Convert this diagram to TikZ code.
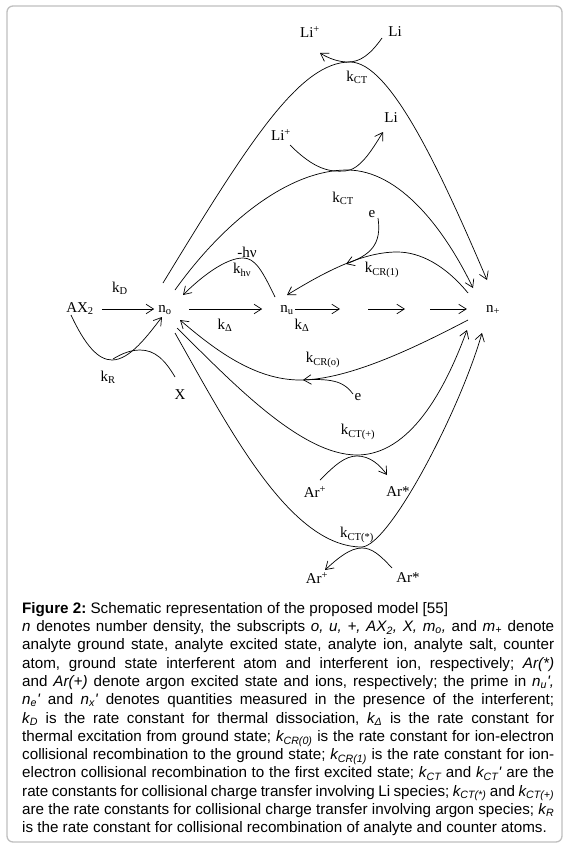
\documentclass[tikz,border=0pt]{standalone}
\usepackage{fontspec}
\setmainfont{Liberation Serif}
\newfontfamily\capfont{Liberation Sans}
\usetikzlibrary{arrows.meta,calc}
\begin{document}
\begin{tikzpicture}[x=1bp,y=-1bp,
  font=\fontsize{15bp}{18bp}\selectfont,
  lbl/.style={inner sep=0pt},
  mainnode/.style={inner sep=1bp, text height=10bp, text depth=4bp},
  arr/.style={line width=0.7bp, -{Straight Barb[length=7.5bp,width=9.5bp]}},
  ln/.style={line width=0.7bp}]
\useasboundingbox (0,0) rectangle (567,849);
\draw[black!25, line width=1.3bp, rounded corners=6bp] (7,6) rectangle (562,842);

% main species
\node[mainnode] (ax2) at (80,309) {AX\textsubscript{2}};
\node[mainnode] (no) at (165,309) {n\textsubscript{o}};
\node[mainnode] (nu) at (287,309) {n\textsubscript{u}};
\node[mainnode] (np) at (493,309) {n\textsubscript{+}};
\coordinate (h1) at (340,309);
\coordinate (h2) at (368,309);
\coordinate (h3) at (405,309);
\coordinate (h4) at (430,309);

% horizontal arrows
\draw[arr, shorten <=7bp, shorten >=3bp] (ax2) -- (no);
\draw[arr, shorten <=16bp, shorten >=17bp] (no) -- (nu);
\draw[arr] (nu) -- (h1);
\draw[arr] (h2) -- (h3);
\draw[arr, shorten >=18bp] (h4) -- (np);

% labels
\node[lbl] (kd) at (120,288) {k\textsubscript{D}};
\node[lbl] (kdel1) at (225,325) {k\textsubscript{Δ}};
\node[lbl] (kdel2) at (302,325) {k\textsubscript{Δ}};
\node[lbl] (kr) at (108,377) {k\textsubscript{R}};
\node[lbl] (xx) at (180,395) {X};
\node[lbl] (hnu) at (247,252) {-hν};
\node[lbl] (khnu) at (242,270) {k\textsubscript{hν}};
\node[lbl] (kcr1) at (382,270) {k\textsubscript{CR(1)}};
\node[lbl] (e1) at (372,214) {e};
\node[lbl] (kct2) at (343,198) {k\textsubscript{CT}};
\node[lbl] (kct1) at (357,77) {k\textsubscript{CT}};
\node[lbl] (lip1) at (310,32) {Li\textsuperscript{+}};
\node[lbl] (li1) at (395,32) {Li};
\node[lbl] (lip2) at (281,135) {Li\textsuperscript{+}};
\node[lbl] (li2) at (391,118) {Li};
\node[lbl] (kcr0) at (323,360) {k\textsubscript{CR(o)}};
\node[lbl] (e2) at (358,397) {e};
\node[lbl] (kctp) at (358,432) {k\textsubscript{CT(+)}};
\node[lbl] (arp1) at (315,492) {Ar\textsuperscript{+}};
\node[lbl] (ars1) at (398,492) {Ar*};
\node[lbl] (kcts) at (357,535) {k\textsubscript{CT(*)}};
\node[lbl] (arp2) at (317,578) {Ar\textsuperscript{+}};
\node[lbl] (ars2) at (408,578) {Ar*};

\coordinate (m1) at (346,264);
\coordinate (m2) at (303,380);
\coordinate (m3) at (113,359);

% top kCT
\draw[arr] ($(no)+(-2,-26)$) .. controls (250,140) and (300,62) .. (350,62)
  .. controls (390,62) and (440,170) .. ($(np)+(-6,-29)$);
\draw[arr] ($(li1)+(-13,6)$) .. controls (370,55) and (360,62) .. (348,62)
  .. controls (338,62) and (328,58) .. ($(lip1)+(10,21)$);
% middle kCT
\draw[arr] ($(no)+(10,-19)$) .. controls (225,220) and (290,170) .. (347,170)
  .. controls (400,170) and (445,230) .. ($(np)+(-20,-21)$);
\draw[arr] ($(lip2)+(9,10)$) .. controls (315,170) and (330,172) .. (345,171)
  .. controls (360,170) and (372,150) .. ($(li2)+(-8,14)$);
% k hnu
\draw[arr] ($(nu)+(-12,-12)$) .. controls (262,270) and (255,258) .. (243,258)
  .. controls (225,258) and (200,278) .. ($(no)+(18,-14)$);
% kCR(1)
\draw[arr] ($(np)+(-25,-16)$) .. controls (445,265) and (420,252) .. (397,252)
  .. controls (360,252) and (320,275) .. ($(nu)+(0,-14)$);
\draw[arr] ($(e1)+(6,4)$) .. controls (382,245) and (370,255) .. (m1);
% kCR(o)
\draw[arr] ($(np)+(-25,11)$) .. controls (420,345) and (350,380) .. (300,380)
  .. controls (255,380) and (215,350) .. ($(no)+(15,11)$);
\draw[arr] ($(e2)+(-5,-3)$) .. controls (345,383) and (335,378) .. (m2);
% kCT(+)
\draw[arr] ($(no)+(12,19)$) .. controls (230,380) and (300,455) .. (357,455)
  .. controls (410,455) and (445,390) .. ($(np)+(-26,21)$);
\draw[arr] ($(arp1)+(5,-12)$) .. controls (335,465) and (345,456) .. (357,456)
  .. controls (370,456) and (380,465) .. ($(ars1)+(-11,-17)$);
% kCT(*)
\draw[arr] ($(no)+(10,24)$) .. controls (230,430) and (290,547) .. (362,547)
  .. controls (390,545) and (460,410) .. ($(np)+(-11,24)$);
\draw[arr] ($(ars2)+(-16,-10)$) .. controls (380,555) and (372,548) .. (362,548)
  .. controls (350,548) and (338,558) .. ($(arp2)+(8,-8)$);
% kR
\draw[arr] ($(ax2)+(-9,6)$) .. controls (85,345) and (98,360) .. (112,360)
  .. controls (130,360) and (148,335) .. ($(no)+(-3,8)$);
\draw[ln] ($(xx)+(-5,-18)$) .. controls (165,360) and (155,350) .. (140,350)
  .. controls (128,350) and (118,356) .. (m3);

% caption
\node[anchor=north west, inner sep=0pt, text width=532bp, align=justify,
      font=\capfont\fontsize{15.2bp}{18.3bp}\selectfont] (cap) at (22,602) {%
\frenchspacing\parfillskip=0pt \tolerance=10000 \hyphenpenalty=10000
\textbf{Figure 2:} Schematic representation of the proposed model [55]\\
\textit{n} denotes number density, the subscripts \textit{o, u, +, AX\textsubscript{2},} \textit{X,} \textit{m\textsubscript{o},} and \textit{m\textsubscript{+}} denote\linebreak
analyte ground state, analyte excited state, analyte ion, analyte salt, counter\linebreak
atom, ground state interferent atom and interferent ion, respectively; \textit{Ar(*)}\linebreak
and \textit{Ar(+)} denote argon excited state and ions, respectively; the prime in \textit{n\textsubscript{u}',}\linebreak
\textit{n\textsubscript{e}'} and \textit{n\textsubscript{x}'} denotes quantities measured in the presence of the interferent;\linebreak
\textit{k\textsubscript{D}} is the rate constant for thermal dissociation, \textit{k\textsubscript{Δ}} is the rate constant for\linebreak
thermal excitation from ground state; \textit{k\textsubscript{CR(0)}} is the rate constant for ion-electron\linebreak
collisional recombination to the ground state; \textit{k\textsubscript{CR(1)}} is the rate constant for ion-\linebreak
electron collisional recombination to the first excited state; \textit{k\textsubscript{CT}} and \textit{k\textsubscript{CT}'} are the\linebreak
rate constants for collisional charge transfer involving Li species; \textit{k\textsubscript{CT(*)}} and \textit{k\textsubscript{CT(+)}}\linebreak
are the rate constants for collisional charge transfer involving argon species; \textit{k\textsubscript{R}}\linebreak
is the rate constant for collisional recombination of analyte and counter atoms.};
\end{tikzpicture}
\end{document}
